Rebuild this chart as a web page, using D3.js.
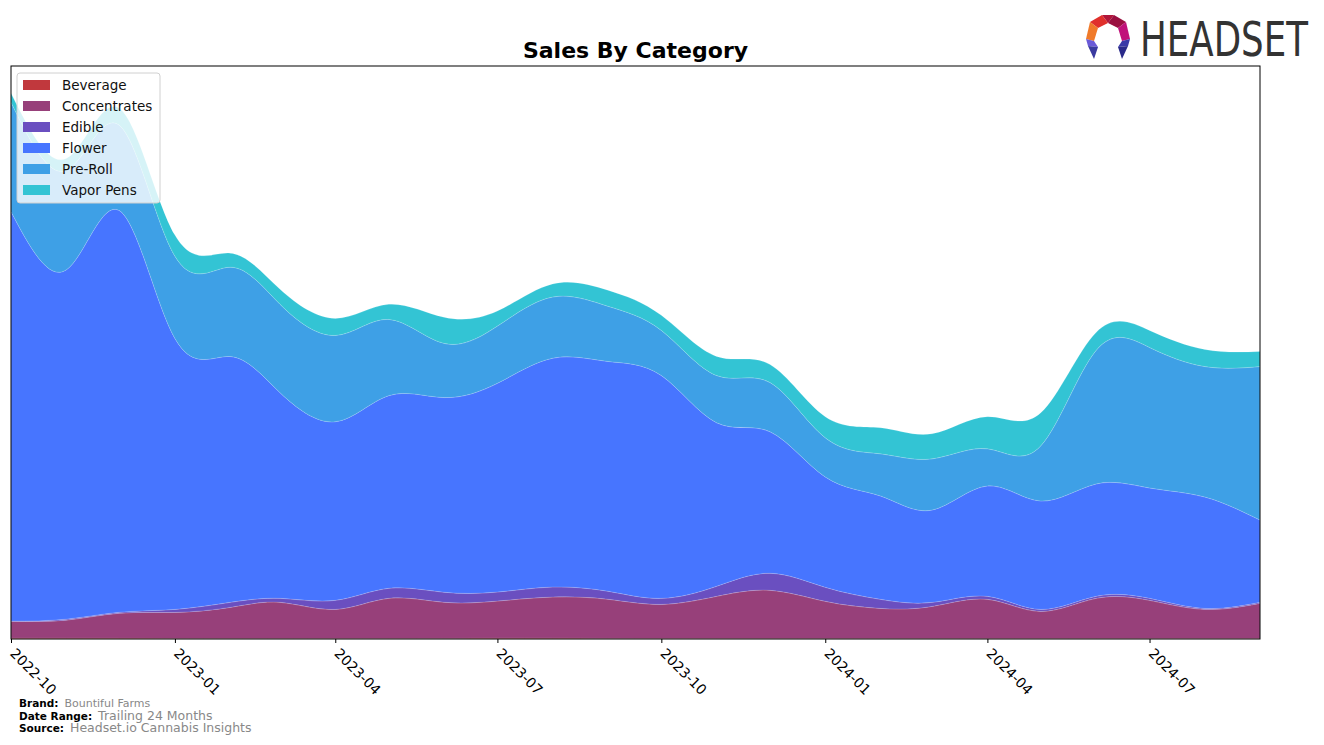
<!DOCTYPE html>
<html>
<head>
<meta charset="utf-8">
<script src="https://cdn.jsdelivr.net/npm/d3@7"></script>
<style>
  body { margin: 0; background: #fff; }
  svg { font-family: "DejaVu Sans", sans-serif; }
</style>
</head>
<body>
<svg id="chart" width="1324" height="745"></svg>
<script>
// Monthly data, trailing 24 months
const months = ["2022-10","2022-11","2022-12","2023-01","2023-02","2023-03","2023-04","2023-05",
    "2023-06","2023-07","2023-08","2023-09","2023-10","2023-11","2023-12","2024-01",
    "2024-02","2024-03","2024-04","2024-05","2024-06","2024-07","2024-08","2024-09"];
const categories = ["Beverage", "Concentrates", "Edible", "Flower", "Pre-Roll", "Vapor Pens"];
const beverage     = [0.8, 0.8, 0.7, 0.5, 0.5, 0.5, 0.5, 0.5, 0.6, 0.8, 0.8, 0.6, 0.5, 0.5, 0.5, 0.5, 0.5, 0.5, 0.5, 0.5, 0.5, 0.5, 0.5, 0.5];
const concentrates = [17, 18, 25, 26, 31, 36, 29, 40, 36, 37, 41, 39, 34, 42, 48, 37, 30, 32, 39, 27, 40, 38, 29, 35];
const edible       = [0, 1, 1, 3, 5, 4, 9, 10, 10, 9, 10, 8, 6, 10, 17, 14, 9, 4, 3, 2, 2, 2, 1, 1];
const flower       = [408, 348, 400, 270, 245, 205, 178, 192, 194, 208, 228, 229, 222, 163, 141, 110, 103, 92, 110, 108, 112, 110, 111, 82];
const preRoll      = [109, 99, 85, 82, 89, 88, 86, 76, 54, 57, 61, 55, 45, 47, 49, 39, 42, 51, 37, 55, 133, 140, 130, 153];
const vaporPens    = [9, 12, 17, 21, 14, 15, 17, 15, 26, 15, 13, 16, 15, 19, 18, 21, 26, 25, 32, 33, 18, 17, 17, 15];
const xTicks = ["2022-10","2023-01","2023-04","2023-07","2023-10","2024-01","2024-04","2024-07"];
const colors = ["#c1383d", "#97407a", "#6a4fc0", "#4775ff", "#3ea0e6", "#33c4d4"];

const parse = d3.timeParse("%Y-%m");
const series = [beverage, concentrates, edible, flower, preRoll, vaporPens];
const data = months.map((m, i) => {
    const row = { date: parse(m) };
    categories.forEach((c, j) => row[c] = series[j][i]);
    return row;
});

const svg = d3.select("#chart");
const margin = { top: 66, right: 64, bottom: 106, left: 11 };
const width = +svg.attr("width") - margin.left - margin.right;
const height = +svg.attr("height") - margin.top - margin.bottom;

const g = svg.append("g")
    .attr("transform", `translate(${margin.left},${margin.top})`);

const stacked = d3.stack().keys(categories)(data);
const maxTotal = d3.max(stacked[stacked.length - 1], d => d[1]);

// Create scales
const x = d3.scaleTime()
    .domain(d3.extent(data, d => d.date))
    .range([0, width]);

const y = d3.scaleLinear()
    .domain([0, maxTotal * 1.05])
    .range([height, 0]);

const area = d3.area()
    .curve(d3.curveNatural)
    .x(d => x(d.data.date))
    .y0(d => y(d[0]))
    .y1(d => y(d[1]));

g.append("clipPath").attr("id", "clip")
    .append("rect").attr("width", width).attr("height", height);

g.append("g").attr("clip-path", "url(#clip)")
    .selectAll("path")
    .data(stacked)
    .enter()
    .append("path")
    .attr("d", area)
    .attr("fill", (d, i) => colors[i])
    .attr("stroke", "rgba(255,255,255,0.25)")
    .attr("stroke-width", 0.6);

// Frame
g.append("rect")
    .attr("width", width)
    .attr("height", height)
    .attr("fill", "none")
    .attr("stroke", "#000")
    .attr("stroke-width", 1);

// X axis
const xAxis = g.append("g")
    .attr("transform", `translate(0,${height})`)
    .call(d3.axisBottom(x)
        .tickValues(xTicks.map(parse))
        .tickFormat(d3.timeFormat("%Y-%m"))
        .tickSize(4));
xAxis.select(".domain").remove();
xAxis.selectAll("line").attr("stroke", "#000");
xAxis.selectAll("text")
    .attr("font-family", "DejaVu Sans")
    .attr("font-size", 14)
    .attr("fill", "#000")
    .attr("dy", 0)
    .attr("y", 0)
    .attr("x", 0)
    .attr("transform", "translate(5,8) rotate(45)")
    .style("text-anchor", "start")
    .attr("dominant-baseline", "hanging");

// Title
svg.append("text")
    .attr("x", margin.left + width / 2)
    .attr("y", 58)
    .attr("text-anchor", "middle")
    .attr("font-size", 22)
    .attr("font-weight", "bold")
    .text("Sales By Category");

// Legend
const legend = svg.append("g").attr("transform", "translate(17,73)");
legend.append("rect")
    .attr("width", 143)
    .attr("height", 130)
    .attr("rx", 3)
    .attr("fill", "rgba(255,255,255,0.8)")
    .attr("stroke", "#d0d0d0");
categories.forEach((c, i) => {
    const row = legend.append("g").attr("transform", `translate(6,${12 + i * 21})`);
    row.append("rect")
        .attr("y", -5)
        .attr("width", 27)
        .attr("height", 10)
        .attr("fill", colors[i]);
    row.append("text")
        .attr("x", 39)
        .attr("y", 0)
        .attr("dy", "0.36em")
        .attr("font-size", 13.5)
        .attr("fill", "#111")
        .text(c);
});

// Footer notes
const notes = [
    { label: "Brand:", value: "Bountiful Farms", y: 707, size: 11 },
    { label: "Date Range:", value: "Trailing 24 Months", y: 720, size: 12.5 },
    { label: "Source:", value: "Headset.io Cannabis Insights", y: 732, size: 12.5 }
];
notes.forEach(n => {
    const t = svg.append("text").attr("x", 19).attr("y", n.y);
    t.append("tspan").attr("font-weight", "bold").attr("font-size", 10.5).attr("fill", "#000").text(n.label);
    t.append("tspan").attr("dx", 6).attr("font-size", n.size).attr("fill", "#888").text(n.value);
});

// Logo
const logo = svg.append("g").attr("transform", "translate(1108,37)");
const icon = [
    { pts: "-6,-22 6,-22 0,-14", c: "#b0163a" },
    { pts: "-6,-22 -18,-15 -10,-9 0,-14", c: "#e0302c" },
    { pts: "6,-22 18,-15 10,-9 0,-14", c: "#9a1040" },
    { pts: "-18,-15 -22,2 -14,4 -10,-9", c: "#f07a2a" },
    { pts: "18,-15 22,2 14,4 10,-9", c: "#c0127a" },
    { pts: "-22,2 -14,4 -10,10 -20,9", c: "#6a5ad8" },
    { pts: "22,2 14,4 10,10 20,9", c: "#3a3aa8" },
    { pts: "-20,9 -10,10 -14,22", c: "#3a3aa0" },
    { pts: "20,9 10,10 14,22", c: "#2a2a8a" }
];
icon.forEach(p => logo.append("polygon").attr("points", p.pts).attr("fill", p.c));
svg.append("text")
    .attr("x", 1140)
    .attr("y", 56)
    .attr("font-family", "DejaVu Sans")
    .attr("font-size", 48)
    .attr("textLength", 168)
    .attr("lengthAdjust", "spacingAndGlyphs")
    .attr("fill", "#333")
    .text("HEADSET");
</script>
</body>
</html>
